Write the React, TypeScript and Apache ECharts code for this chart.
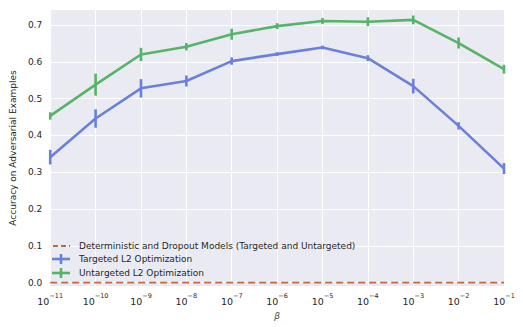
import React, { useEffect, useRef } from "react";
import * as echarts from "echarts";

const exponents = [-11, -10, -9, -8, -7, -6, -5, -4, -3, -2, -1];
const targetedAcc = [0.341, 0.446, 0.528, 0.548, 0.602, 0.621, 0.639, 0.610, 0.534, 0.426, 0.310];
const targetedErr = [0.02, 0.025, 0.025, 0.015, 0.01, 0.005, 0.005, 0.008, 0.02, 0.01, 0.015];
const untargetedAcc = [0.453, 0.538, 0.620, 0.641, 0.675, 0.697, 0.711, 0.709, 0.714, 0.651, 0.580];
const untargetedErr = [0.01, 0.03, 0.018, 0.01, 0.015, 0.008, 0.008, 0.012, 0.012, 0.015, 0.012];
const baselineAcc = [0, 0];
const baselineX = [-11, -1];
const yTicks = [0, 0.1, 0.2, 0.3, 0.4, 0.5, 0.6, 0.7];
const legendNames = [
  "Deterministic and Dropout Models (Targeted and Untargeted)",
  "Targeted L2 Optimization",
  "Untargeted L2 Optimization",
];

const BLUE = "#6A80DA";
const GREEN = "#55B468";
const RED = "#C6663F";
const TEXT = "#262626";
const FONT = "DejaVu Sans";

function errSeries(name: string, vals: number[], errs: number[], color: string) {
  return {
    type: "custom",
    name: name + " err",
    z: 5,
    data: exponents.map((x, i) => [x, vals[i] - errs[i], vals[i] + errs[i]]),
    renderItem: (params: any, api: any) => {
      const p1 = api.coord([api.value(0), api.value(1)]);
      const p2 = api.coord([api.value(0), api.value(2)]);
      return {
        type: "line",
        shape: { x1: p1[0], y1: p1[1], x2: p2[0], y2: p2[1] },
        style: { stroke: color, lineWidth: 2.6 },
      };
    },
  };
}

export default function App() {
  const ref = useRef<HTMLDivElement>(null);
  useEffect(() => {
    const chart = echarts.init(ref.current!, null, { renderer: "svg" });
    const legendY = [246, 259, 273];
    chart.setOption({
      animation: false,
      textStyle: { fontFamily: FONT },
      grid: { left: 45, right: 19, top: 10, bottom: 41, backgroundColor: "#EAEAF2", show: true, borderWidth: 0 },
      xAxis: {
        type: "value",
        min: -11,
        max: -1,
        interval: 1,
        name: "β",
        nameLocation: "middle",
        nameGap: 25,
        nameTextStyle: { fontFamily: FONT, fontStyle: "italic", fontSize: 9, color: "#444" },
        axisLine: { show: false },
        axisTick: { show: false },
        splitLine: { show: true, lineStyle: { color: "#ffffff", width: 1 } },
        axisLabel: {
          margin: 6,
          formatter: (v: number) => `{b|10}{s|${String(Math.round(v)).replace("-", "−")}}`,
          rich: {
            b: { fontSize: 9.5, color: TEXT, fontFamily: FONT, lineHeight: 14, verticalAlign: "bottom" },
            s: { fontSize: 6.5, color: TEXT, fontFamily: FONT, lineHeight: 14, verticalAlign: "top" },
          },
        },
      },
      yAxis: {
        type: "value",
        min: -0.009,
        max: 0.7408,
        name: "Accuracy on Adversarial Examples",
        nameLocation: "middle",
        nameGap: 30,
        nameTextStyle: { fontFamily: FONT, fontSize: 9, color: TEXT },
        axisLine: { show: false },
        axisTick: { show: false, customValues: yTicks },
        splitLine: { show: true, lineStyle: { color: "#ffffff", width: 1 } },
        axisLabel: {
          customValues: yTicks,
          margin: 8,
          fontSize: 9,
          color: TEXT,
          fontFamily: FONT,
          formatter: (v: number) => v.toFixed(1),
        },
      },
      series: [
        {
          type: "line",
          name: legendNames[0],
          data: baselineX.map((x, i) => [x, baselineAcc[i]]),
          showSymbol: false,
          lineStyle: { color: RED, width: 1.8, type: [7, 4] },
          z: 3,
        },
        {
          type: "line",
          name: legendNames[1],
          data: exponents.map((x, i) => [x, targetedAcc[i]]),
          showSymbol: false,
          lineStyle: { color: BLUE, width: 2.6 },
          z: 4,
        },
        {
          type: "line",
          name: legendNames[2],
          data: exponents.map((x, i) => [x, untargetedAcc[i]]),
          showSymbol: false,
          lineStyle: { color: GREEN, width: 2.6 },
          z: 4,
        },
        errSeries(legendNames[1], targetedAcc, targetedErr, BLUE),
        errSeries(legendNames[2], untargetedAcc, untargetedErr, GREEN),
      ],
      graphic: [
        { type: "line", z: 10, shape: { x1: 53, y1: legendY[0], x2: 70, y2: legendY[0] }, style: { stroke: RED, lineWidth: 1.8, lineDash: [5, 3] } },
        { type: "line", z: 10, shape: { x1: 52, y1: legendY[1], x2: 70, y2: legendY[1] }, style: { stroke: BLUE, lineWidth: 2.6 } },
        { type: "line", z: 10, shape: { x1: 61, y1: legendY[1] - 5, x2: 61, y2: legendY[1] + 5 }, style: { stroke: BLUE, lineWidth: 2.6 } },
        { type: "line", z: 10, shape: { x1: 52, y1: legendY[2], x2: 70, y2: legendY[2] }, style: { stroke: GREEN, lineWidth: 2.6 } },
        { type: "line", z: 10, shape: { x1: 61, y1: legendY[2] - 5, x2: 61, y2: legendY[2] + 5 }, style: { stroke: GREEN, lineWidth: 2.6 } },
        ...legendNames.map((t, i) => ({
          type: "text",
          z: 10,
          x: 79,
          y: legendY[i],
          style: { text: t, fontSize: 9, fontFamily: FONT, fill: TEXT, verticalAlign: "middle" },
        })),
      ],
    });
    return () => chart.dispose();
  }, []);
  return <div ref={ref} style={{ width: 523, height: 327, position: "absolute", left: 0, top: 0 }} />;
}
